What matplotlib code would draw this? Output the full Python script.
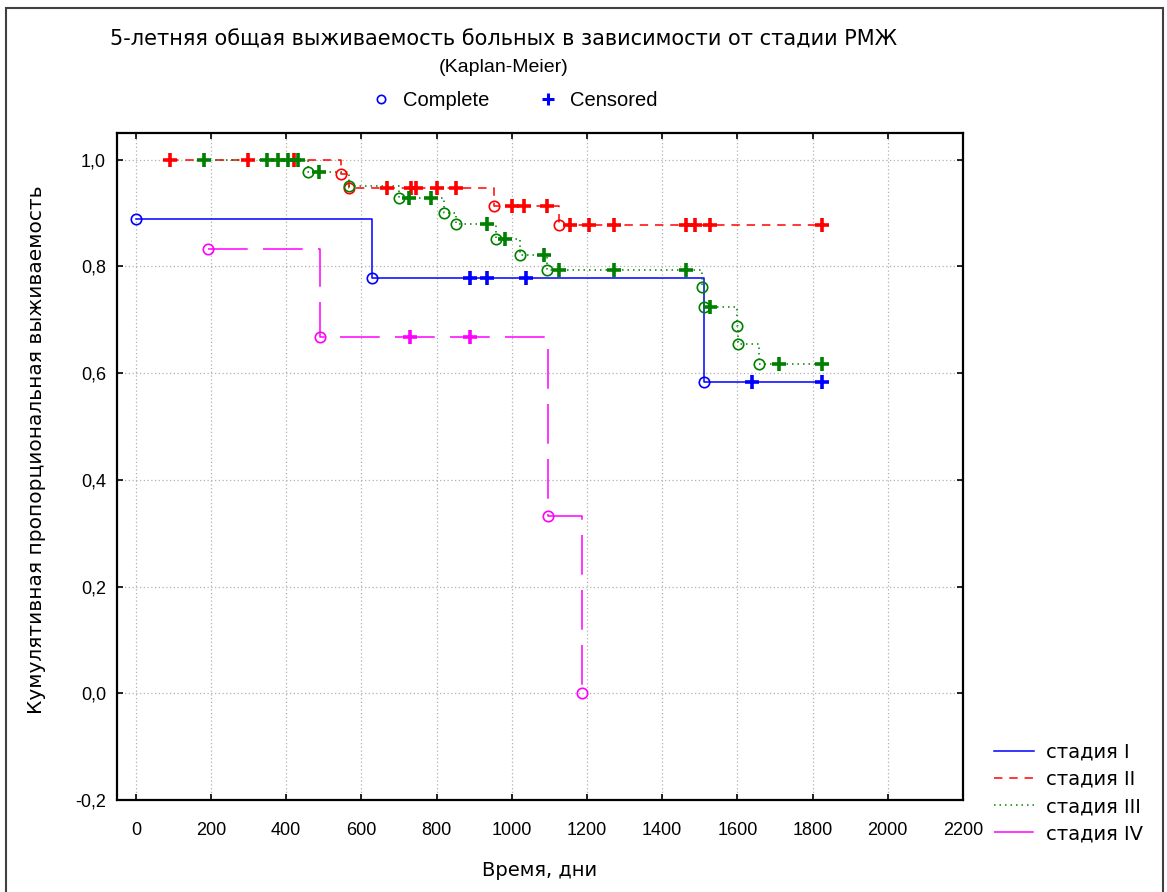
import numpy as np
import matplotlib
matplotlib.use('Agg')
import matplotlib.pyplot as plt
from matplotlib.lines import Line2D
from matplotlib.patches import Rectangle
from matplotlib.ticker import FuncFormatter

plt.rcParams['font.family'] = ['Liberation Sans', 'DejaVu Sans']
cyr = ['DejaVu Sans']

# stage I
t1_comp = [0, 629, 1510]
s1_comp = [0.889, 0.778, 0.583]
t1_cens = [890, 935, 1039, 1639, 1825]
s1_cens = [0.778, 0.778, 0.778, 0.583, 0.583]

# stage II
t2_comp = [545, 567, 952, 1125]
s2_comp = [0.973, 0.946, 0.914, 0.878]
t2_cens = [92, 297, 420, 669, 731, 745, 802, 851, 1000, 1033, 1094,
           1156, 1205, 1271, 1462, 1488, 1528, 1825]
s2_cens = [1.0, 1.0, 1.0, 0.946, 0.946, 0.946, 0.946, 0.946, 0.914, 0.914, 0.914,
           0.878, 0.878, 0.878, 0.878, 0.878, 0.878, 0.878]

# stage III
t3_comp = [457, 566, 699, 819, 851, 957, 1023, 1094, 1506, 1511, 1600, 1602, 1657]
s3_comp = [0.976, 0.951, 0.929, 0.901, 0.879, 0.851, 0.822, 0.794, 0.761, 0.724,
           0.689, 0.654, 0.617]
t3_cens = [181, 350, 378, 405, 430, 487, 726, 784, 935, 983, 1085, 1125, 1271,
           1462, 1528, 1710, 1825]
s3_cens = [1.0, 1.0, 1.0, 1.0, 1.0, 0.976, 0.929, 0.929, 0.879, 0.851, 0.822,
           0.794, 0.794, 0.794, 0.724, 0.617, 0.617]

# stage IV
t4_comp = [193, 489, 1095, 1187]
s4_comp = [0.833, 0.667, 0.333, 0.0]
t4_cens = [728, 890]
s4_cens = [0.667, 0.667]

labels = ['стадия I', 'стадия II', 'стадия III', 'стадия IV']
colors = ['#0000FF', '#FF0000', '#008000', '#FF00FF']
styles = ['-', (0, (5.5, 4.5)), (0, (1, 2.6)), (0, (26, 10))]

data = [(t1_comp, s1_comp, t1_cens, s1_cens),
        (t2_comp, s2_comp, t2_cens, s2_cens),
        (t3_comp, s3_comp, t3_cens, s3_cens),
        (t4_comp, s4_comp, t4_cens, s4_cens)]

fig = plt.figure(figsize=(11.67, 8.92), dpi=100)
ax = fig.add_axes([0.1003, 0.1031, 0.7249, 0.7478])

for (tc, sc, tx, sx), col, ls in zip(data, colors, styles):
    t = np.array(list(tc) + list(tx), dtype=float)
    s = np.array(list(sc) + list(sx), dtype=float)
    order = np.lexsort((-s, t))
    ax.plot(t[order], s[order], drawstyle='steps-post', color=col, lw=1.1,
            linestyle=ls, zorder=2)
    ax.plot(tc, sc, linestyle='None', marker='o', ms=7.5, mfc='none', mec=col, mew=1.2, zorder=3)
    ax.plot(tx, sx, linestyle='None', marker='+', ms=10, mec=col, mew=2.6, zorder=4)

ax.set_xlim(-50, 2200)
ax.set_ylim(-0.2, 1.05)
ax.set_xticks(np.arange(0, 2201, 200))
ax.set_yticks(np.arange(-0.2, 1.01, 0.2))
ax.yaxis.set_major_formatter(FuncFormatter(lambda v, p: ('%.1f' % v).replace('.', ',').replace('-0,0', '0,0')))
ax.grid(True, color='#B0B0B0', linestyle=(0, (1, 2)), lw=0.9)
ax.tick_params(labelsize=13, length=4, width=1.2, direction='in',
               top=True, right=True, labeltop=False, labelright=False)
ax.tick_params(axis='x', pad=16)
ax.tick_params(axis='y', pad=8)
for sp in ax.spines.values():
    sp.set_linewidth(1.6)

ax.set_xlabel('Время, дни', fontsize=14, family=cyr, labelpad=16)
ax.set_ylabel('Кумулятивная пропорциональная выживаемость', fontsize=14.5, family=cyr)
ax.yaxis.set_label_coords(-0.084, 0.525)

fig.text(504 / 1167, 1 - 40 / 892, '5-летняя общая выживаемость больных в зависимости от стадии РМЖ',
         ha='center', va='center', fontsize=15, family=cyr)
fig.text(504 / 1167, 1 - 68 / 892, '(Kaplan-Meier)', ha='center', va='center', fontsize=14)

top_handles = [Line2D([], [], linestyle='None', marker='o', ms=6, mfc='none', mec='#0000FF', mew=1.2),
               Line2D([], [], linestyle='None', marker='+', ms=9, mec='#0000FF', mew=2.2)]
fig.legend(top_handles, ['Complete', 'Censored'], loc='center', ncol=2,
           bbox_to_anchor=(514 / 1167, 1 - 101 / 892), frameon=False, fontsize=14.5,
           handlelength=1.0, handletextpad=0.6, columnspacing=2.4)

side_handles = [Line2D([], [], color=col, lw=1.1, linestyle=ls) for col, ls in zip(colors, styles)]
fig.legend(side_handles, labels, loc='center left', bbox_to_anchor=(976 / 1167, 1 - 793 / 892),
           frameon=False, prop={'family': cyr, 'size': 14}, handlelength=2.1,
           handletextpad=0.6, labelspacing=0.42)

# outer border of the panel
fig.patches.append(Rectangle((6 / 1167, -0.01), 1157 / 1167, 1 - 8 / 892 + 0.01,
                             transform=fig.transFigure, fill=False, edgecolor='#404040', lw=1.5))

fig.savefig('out.png', dpi=100, facecolor='white')
